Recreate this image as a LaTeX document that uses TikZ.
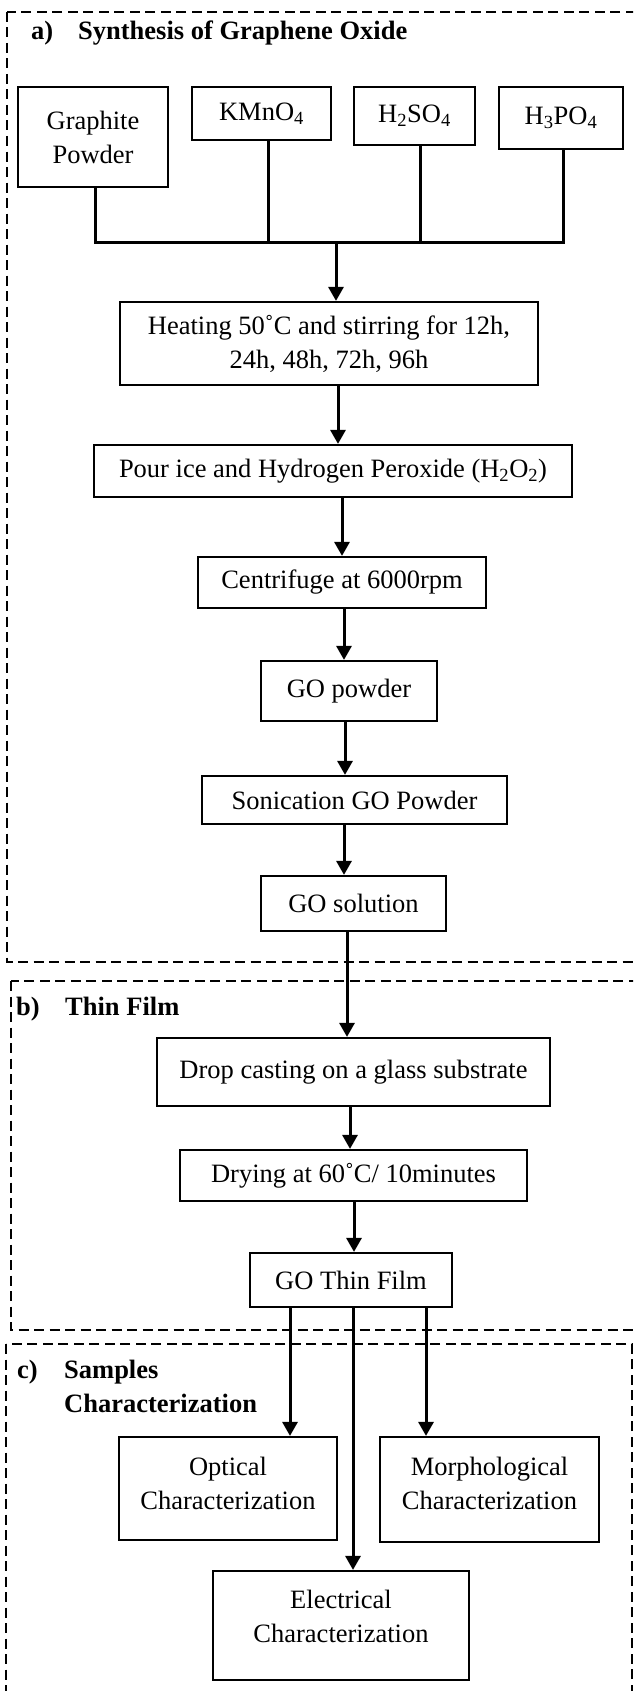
\documentclass[tikz,border=0pt]{standalone}
\usepackage{fontspec}
\setmainfont{Liberation Serif}
\usetikzlibrary{arrows.meta}
\tikzset{
  box/.style={draw, line width=2.2pt, inner sep=0pt, align=center, font=\fontsize{26.5}{34}\selectfont},
  link/.style={line width=3pt},
  arr/.style={line width=3pt, -{Triangle[width=15pt,length=14pt]}},
  frame/.style={line width=2.3pt, dash pattern=on 10pt off 5.5pt},
  ttl/.style={anchor=base west, inner sep=0pt, font=\fontsize{26.5}{34}\selectfont\bfseries}
}
\begin{document}
\begin{tikzpicture}[x=1pt, y=-1pt]
  \useasboundingbox (0,0) rectangle (633,1691);
  \clip (0,0) rectangle (633,1691);
  % dashed frames
  \draw[frame] (7,12) rectangle (650,962);     % a)
  \draw[frame] (11,981) rectangle (650,1330);  % b)
  \draw[frame] (6,1344) rectangle (632,1710);  % c)
  \node[ttl] (alab) at (31,40) {a)};
  \node[ttl] (atxt) at (78,40) {Synthesis of Graphene Oxide};
  \node[ttl] (blab) at (16,1015) {b)};
  \node[ttl] (btxt) at (65,1015) {Thin Film};
  \node[ttl] (clab) at (17,1378) {c)};
  \node[ttl] (ctxt) at (64,1378) {Samples};
  \node[ttl] (ctxt2) at (64,1412) {Characterization};

  % raw materials
  \node[box, minimum width=150pt, minimum height=100pt] (graphite) at (93,137) {Graphite\\Powder};
  \node[box, minimum width=139pt, minimum height=53pt] (kmno) at (261.5,113.5) {KMnO\textsubscript{4}};
  \node[box, minimum width=121pt, minimum height=58pt] (hso) at (414.5,116) {H\textsubscript{2}SO\textsubscript{4}};
  \node[box, minimum width=124pt, minimum height=62pt] (hpo) at (561,118) {H\textsubscript{3}PO\textsubscript{4}};
  \coordinate (bus) at (336,242);
  \draw[link] ([xshift=2pt]graphite.south) |- (bus) -| ([xshift=2pt]hpo.south);
  \draw[link] ([xshift=6.5pt]kmno.south) |- (bus);
  \draw[link] ([xshift=5.5pt]hso.south) |- (bus);

  % synthesis steps
  \node[box, minimum width=418pt, minimum height=83pt] (heat) at (329,343.5) {Heating 50˚C and stirring for 12h,\\24h, 48h, 72h, 96h};
  \node[box, minimum width=478pt, minimum height=52pt] (pour) at (333,471) {Pour ice and Hydrogen Peroxide (H\textsubscript{2}O\textsubscript{2})};
  \node[box, minimum width=288pt, minimum height=51pt] (cent) at (342,582.5) {Centrifuge at 6000rpm};
  \node[box, minimum width=176pt, minimum height=60pt] (gopow) at (349,691) {GO powder};
  \node[box, minimum width=305pt, minimum height=48pt] (sonic) at (354.5,800) {Sonication GO Powder};
  \node[box, minimum width=185pt, minimum height=55pt] (gosol) at (353.5,903.5) {GO solution};
  % thin film
  \node[box, minimum width=393pt, minimum height=68pt] (drop) at (353.5,1072) {Drop casting on a glass substrate};
  \node[box, minimum width=347pt, minimum height=51pt] (dry) at (353.5,1175.5) {Drying at 60˚C/ 10minutes};
  \node[box, minimum width=202pt, minimum height=54pt] (thin) at (351,1280) {GO Thin Film};
  % characterization
  \node[box, minimum width=218pt, minimum height=103pt] (optic) at (228,1488.5) {Optical\\Characterization\\[-24pt]\mbox{}};
  \node[box, minimum width=219pt, minimum height=105pt] (morph) at (489.5,1489.5) {Morphological\\Characterization\\[-22pt]\mbox{}};
  \node[box, minimum width=256pt, minimum height=109pt] (elec) at (341,1625.5) {Electrical\\Characterization\\[-16pt]\mbox{}};

  \draw[arr] (bus) -- ([xshift=7pt]heat.north);
  \draw[arr] ([xshift=9pt]heat.south) -- ([xshift=5pt]pour.north);
  \draw[arr] ([xshift=9pt]pour.south) -- (cent.north);
  \draw[arr] ([xshift=2pt]cent.south) -- ([xshift=-5pt]gopow.north);
  \draw[arr] ([xshift=-4pt]gopow.south) -- ([xshift=-9.5pt]sonic.north);
  \draw[arr] ([xshift=-10.5pt]sonic.south) -- ([xshift=-9.5pt]gosol.north);
  \draw[arr] ([xshift=-6.5pt]gosol.south) -- ([xshift=-6.5pt]drop.north);
  \draw[arr] ([xshift=-3.5pt]drop.south) -- ([xshift=-3.5pt]dry.north);
  \draw[arr] ([xshift=0.5pt]dry.south) -- ([xshift=3pt]thin.north);
  \draw[arr] ([xshift=-61pt]thin.south) -- ([xshift=62pt]optic.north);
  \draw[arr] ([xshift=2pt]thin.south) -- ([xshift=12pt]elec.north);
  \draw[arr] ([xshift=75pt]thin.south) -- ([xshift=-63.5pt]morph.north);
\end{tikzpicture}
\end{document}
